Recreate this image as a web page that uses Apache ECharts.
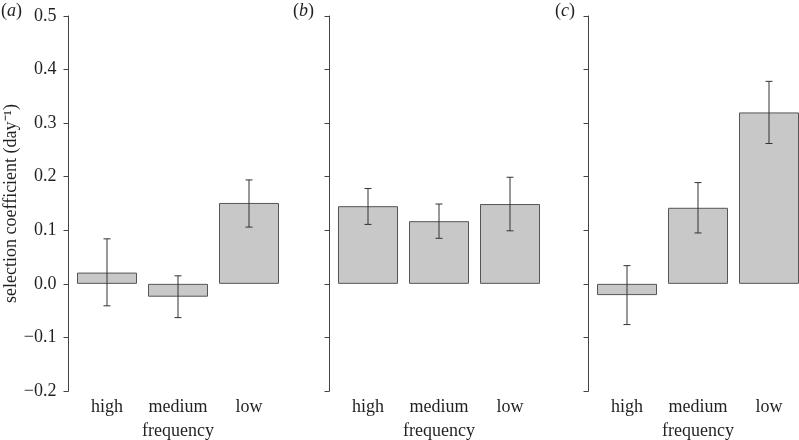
<!DOCTYPE html>
<html>
<head>
<meta charset="utf-8">
<script src="https://cdn.jsdelivr.net/npm/echarts@6/dist/echarts.min.js"></script>
<style>html,body{margin:0;padding:0;background:#fff}#c{width:799px;height:440px}</style>
</head>
<body>
<div id="c"></div>
<script>
var categories = ['high', 'medium', 'low'];
var yTicks = [-0.2, -0.1, 0.0, 0.1, 0.2, 0.3, 0.4, 0.5];
var panelLabels = ['a', 'b', 'c'];

var meanA = [0.021, -0.024, 0.151];
var lowA  = [-0.041, -0.063, 0.106];
var highA = [0.084, 0.015, 0.194];

var meanB = [0.145, 0.117, 0.149];
var lowB  = [0.111, 0.085, 0.099];
var highB = [0.178, 0.149, 0.199];

var meanC = [-0.021, 0.142, 0.320];
var lowC  = [-0.076, 0.095, 0.262];
var highC = [0.034, 0.189, 0.378];

var means = [meanA, meanB, meanC];
var lows = [lowA, lowB, lowC];
var highs = [highA, highB, highC];

var FONT = '"Liberation Serif", "Times New Roman", serif';
var TXT = '#231f20';
var gridLefts = [71.5, 332.5, 591.5];
var bandW = 213;

var grids = [], xAxes = [], yAxes = [], series = [], graphics = [];
for (var p = 0; p < 3; p++) {
  grids.push({left: gridLefts[p], width: bandW, top: 16, bottom: 49, containLabel: false, outerBoundsMode: 'none'});
  xAxes.push({
    type: 'category', gridIndex: p, data: categories,
    axisLine: {show: false}, axisTick: {show: false},
    axisLabel: {interval: 0, fontFamily: FONT, fontSize: 18, color: TXT, margin: 7},
    name: 'frequency', nameLocation: 'middle', nameGap: 31,
    nameTextStyle: {fontFamily: FONT, fontSize: 18, color: TXT},
    splitLine: {show: false}
  });
  yAxes.push({
    type: 'value', gridIndex: p, min: yTicks[0], max: yTicks[yTicks.length - 1], interval: 0.1,
    offset: 3,
    axisLine: {show: true, lineStyle: {color: '#444', width: 1}},
    axisTick: {show: true, length: 5, lineStyle: {color: '#444', width: 1}},
    axisLabel: {show: p === 0, fontFamily: FONT, fontSize: 18, color: TXT, margin: 12,
      formatter: function (v) { return v.toFixed(1).replace('-', '\u2212'); }},
    splitLine: {show: false},
    name: p === 0 ? 'selection coefficient (day\u207B\u00B9)' : '',
    nameLocation: 'middle', nameGap: 40, nameRotate: 90,
    nameTextStyle: {fontFamily: FONT, fontSize: 18, color: TXT}
  });
  series.push({
    type: 'bar', xAxisIndex: p, yAxisIndex: p, data: means[p], barWidth: 60, z: 2,
    itemStyle: {color: '#c8c8c8', borderColor: '#555', borderWidth: 1},
    silent: true, animation: false
  });
  (function (pi) {
    var errData = categories.map(function (c, i) { return [i, lows[pi][i], highs[pi][i]]; });
    series.push({
      type: 'custom', xAxisIndex: pi, yAxisIndex: pi, data: errData, animation: false, silent: true, z: 5,
      renderItem: function (params, api) {
        var x = api.value(0);
        var lo = api.coord([x, api.value(1)]);
        var hi = api.coord([x, api.value(2)]);
        var cap = 3.5;
        var st = {stroke: '#333', lineWidth: 1};
        return {type: 'group', children: [
          {type: 'line', shape: {x1: hi[0], y1: hi[1], x2: lo[0], y2: lo[1]}, style: st},
          {type: 'line', shape: {x1: hi[0] - cap, y1: hi[1], x2: hi[0] + cap, y2: hi[1]}, style: st},
          {type: 'line', shape: {x1: lo[0] - cap, y1: lo[1], x2: lo[0] + cap, y2: lo[1]}, style: st}
        ]};
      },
      encode: {x: 0, y: [1, 2]}
    });
  })(p);
}

var labelX = [1, 293, 555];
for (var k = 0; k < 3; k++) {
  graphics.push({
    type: 'text', left: labelX[k], top: 2,
    style: {
      text: '{n|(}{i|' + panelLabels[k] + '}{n|)}',
      rich: {
        n: {fontFamily: FONT, fontSize: 18, fill: TXT},
        i: {fontFamily: FONT, fontSize: 18, fontStyle: 'italic', fill: TXT}
      }
    }
  });
}

var chart = echarts.init(document.getElementById('c'), null, {renderer: 'canvas'});
chart.setOption({
  animation: false,
  backgroundColor: '#fff',
  grid: grids, xAxis: xAxes, yAxis: yAxes, series: series, graphic: graphics
});
</script>
</body>
</html>
